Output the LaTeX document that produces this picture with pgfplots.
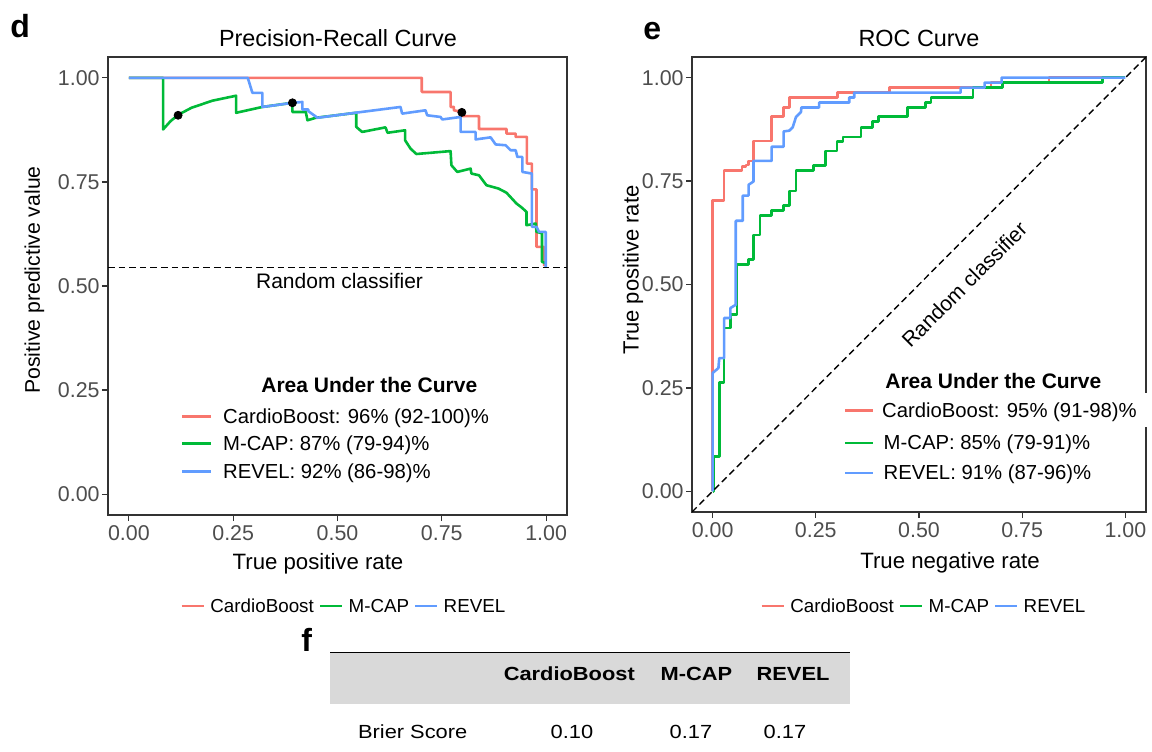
\documentclass[border=0pt]{standalone}
\usepackage{fontspec}
\setmainfont{Liberation Sans}
\usepackage{graphicx}
\usepackage{pgfplots}
\pgfplotsset{compat=1.18}

\definecolor{cbred}{HTML}{F8766D}
\definecolor{mgreen}{HTML}{00BA38}
\definecolor{rblue}{HTML}{619CFF}
\definecolor{tickgray}{HTML}{4D4D4D}
\definecolor{framegray}{HTML}{333333}
\definecolor{tablegray}{HTML}{D9D9D9}

\pgfplotsset{
  panel/.style={
    scale only axis,
    xmin=-0.05, xmax=1.05, ymin=-0.05, ymax=1.05,
    xtick={0,0.25,0.5,0.75,1}, ytick={0,0.25,0.5,0.75,1},
    xticklabels={0.00,0.25,0.50,0.75,1.00},
    yticklabels={0.00,0.25,0.50,0.75,1.00},
    tick align=outside, major tick length=3pt, tick pos=left,
    tick style={draw=framegray, line width=0.6pt},
    axis line style={draw=framegray, line width=0.6pt},
    ticklabel style={font=\fontsize{10.7}{12}\selectfont, text=tickgray, inner sep=0pt},
    xticklabel style={anchor=base, yshift=-9.5pt},
    yticklabel style={anchor=east, xshift=-1pt},
  },
  curve/.style={line width=1.3pt, line join=round},
}

\begin{document}
\begin{tikzpicture}
\path[use as bounding box] (0,0) rectangle (576pt,375.5pt);

% d: precision-recall
\begin{axis}[panel, at={(54pt,118pt)}, anchor=south west, width=229.5pt, height=229pt]
\addplot[curve, cbred] coordinates {
(0,1)(0.702,1)(0.702,0.966)(0.771,0.966)(0.771,0.930)(0.779,0.930)(0.779,0.922)
(0.798,0.918)(0.800,0.908)(0.839,0.908)(0.839,0.877)(0.905,0.877)(0.905,0.866)
(0.927,0.866)(0.927,0.858)(0.954,0.858)(0.954,0.794)(0.966,0.794)(0.966,0.732)
(0.977,0.732)(0.977,0.594)(0.995,0.594)(0.995,0.548)
};
\addplot[curve, mgreen] coordinates {
(0,1)(0.082,1)(0.082,0.876)(0.100,0.896)(0.118,0.911)(0.150,0.928)(0.200,0.945)
(0.257,0.957)(0.257,0.916)(0.320,0.930)(0.392,0.940)(0.392,0.918)(0.424,0.918)
(0.428,0.898)(0.448,0.904)(0.545,0.916)(0.545,0.882)(0.559,0.870)(0.615,0.881)
(0.620,0.868)(0.662,0.874)(0.662,0.850)(0.675,0.830)(0.689,0.817)(0.771,0.824)
(0.773,0.790)(0.787,0.774)(0.819,0.782)(0.821,0.770)(0.839,0.766)(0.857,0.742)
(0.886,0.734)(0.905,0.724)(0.929,0.698)(0.942,0.688)(0.953,0.678)(0.953,0.646)
(0.975,0.650)(0.977,0.630)(0.990,0.627)(0.990,0.558)(0.999,0.555)
};
\addplot[curve, rblue] coordinates {
(0,1)(0.285,1)(0.296,0.964)(0.320,0.964)(0.320,0.930)(0.350,0.934)(0.392,0.940)
(0.416,0.942)(0.416,0.924)(0.430,0.924)(0.430,0.920)(0.452,0.904)(0.550,0.917)
(0.651,0.930)(0.655,0.914)(0.711,0.922)(0.715,0.910)(0.747,0.906)(0.751,0.900)
(0.795,0.906)(0.795,0.870)(0.831,0.870)(0.831,0.852)(0.867,0.857)(0.879,0.840)
(0.903,0.838)(0.915,0.826)(0.927,0.826)(0.931,0.810)(0.943,0.810)(0.943,0.774)
(0.966,0.770)(0.966,0.642)(0.977,0.642)(0.983,0.630)(0.999,0.630)(0.999,0.544)
};
\addplot[only marks, mark=*, mark size=2pt, black] coordinates {
(0.118,0.910)(0.392,0.940)(0.798,0.917)
};
\draw[black, line width=0.7pt, dash pattern=on 3.3pt off 2pt] (axis cs:-0.05,0.545) -- (axis cs:1.05,0.545);
\node[font=\fontsize{10.5}{12}\selectfont] at (axis cs:0.505,0.512) {Random classifier};
\end{axis}

% e: ROC
\begin{axis}[panel, at={(346pt,119.5pt)}, anchor=south west, width=227pt, height=227.5pt]
\addplot[curve, cbred] coordinates {
(0,0)(0,0.703)(0.028,0.703)(0.028,0.775)(0.071,0.775)(0.071,0.785)(0.081,0.785)
(0.081,0.789)(0.087,0.789)(0.087,0.799)(0.099,0.799)(0.099,0.847)(0.143,0.847)
(0.143,0.906)(0.172,0.906)(0.172,0.928)(0.186,0.928)(0.186,0.952)(0.303,0.952)
(0.303,0.964)(0.429,0.964)(0.429,0.976)(0.674,0.976)(0.674,0.988)(0.815,0.988)
(0.815,1)(1,1)
};
\addplot[curve, mgreen] coordinates {
(0,0)(0.002,0)(0.002,0.084)(0.016,0.084)(0.016,0.263)(0.028,0.263)(0.028,0.395)
(0.043,0.395)(0.043,0.428)(0.059,0.428)(0.059,0.548)(0.087,0.548)(0.087,0.560)
(0.099,0.560)(0.099,0.620)(0.115,0.620)(0.115,0.667)(0.143,0.667)(0.143,0.679)
(0.172,0.679)(0.172,0.691)(0.186,0.691)(0.186,0.726)(0.202,0.726)(0.202,0.775)
(0.245,0.775)(0.245,0.787)(0.273,0.787)(0.273,0.823)(0.301,0.823)(0.301,0.845)
(0.316,0.845)(0.316,0.857)(0.359,0.857)(0.359,0.880)(0.387,0.880)(0.387,0.894)
(0.402,0.894)(0.402,0.906)(0.472,0.906)(0.472,0.928)(0.516,0.928)(0.516,0.940)
(0.529,0.940)(0.529,0.952)(0.631,0.952)(0.631,0.976)(0.702,0.976)(0.702,0.988)
(0.944,0.988)(0.944,1)(1,1)
};
\addplot[curve, rblue] coordinates {
(0,0)(0,0.286)(0.014,0.298)(0.016,0.322)(0.028,0.322)(0.028,0.419)(0.043,0.419)
(0.043,0.443)(0.056,0.451)(0.056,0.654)(0.073,0.654)(0.073,0.715)(0.087,0.715)
(0.087,0.741)(0.099,0.749)(0.099,0.799)(0.143,0.799)(0.143,0.833)(0.172,0.833)
(0.172,0.870)(0.186,0.872)(0.194,0.880)(0.202,0.905)(0.214,0.917)(0.215,0.928)
(0.258,0.928)(0.258,0.940)(0.331,0.940)(0.331,0.952)(0.343,0.952)(0.343,0.964)
(0.601,0.964)(0.601,0.976)(0.659,0.976)(0.659,0.988)(0.700,0.988)(0.700,1)(1,1)
};
\draw[black, line width=0.7pt, dash pattern=on 3.3pt off 2pt] (axis cs:-0.05,-0.05) -- (axis cs:1.05,1.05);
\node[rotate=45, font=\fontsize{10.5}{12}\selectfont] at (axis cs:0.61,0.50) {Random classifier};
\end{axis}

% annotations in pixel coordinates (y downwards)
\begin{scope}[x=0.5pt, y=-0.5pt, yshift=375.5pt]
\node[anchor=base west, inner sep=0pt, font=\fontsize{16}{18}\selectfont\bfseries] at (10,38) {d};
\node[anchor=base west, inner sep=0pt, font=\fontsize{16}{18}\selectfont\bfseries] at (643,40) {e};
\node[anchor=base west, inner sep=0pt, font=\fontsize{16}{18}\selectfont\bfseries] at (301,651) {f};

\node[anchor=base, inner sep=0pt, font=\fontsize{11.7}{14}\selectfont] at (338,46.7) {Precision-Recall Curve};
\node[anchor=base, inner sep=0pt, font=\fontsize{11.7}{14}\selectfont] at (919,46.7) {ROC Curve};

\node[anchor=base, inner sep=0pt, font=\fontsize{11.1}{13}\selectfont] at (318,569.3) {True positive rate};
\node[anchor=base, inner sep=0pt, font=\fontsize{11.1}{13}\selectfont] at (950,568.3) {True negative rate};
\node[rotate=90, inner sep=0pt, font=\fontsize{10.6}{13}\selectfont] at (34.5,280) {Positive predictive value};
\node[rotate=90, inner sep=0pt, font=\fontsize{11}{13}\selectfont] at (633,270) {True positive rate};

% legend inside d
\node[anchor=base west, inner sep=0pt, font=\fontsize{10.5}{12}\selectfont\bfseries] at (261,392.7) {Area Under the Curve};
\draw[cbred, line width=1.3pt] (182.3,416.3) -- (211,416.3);
\draw[mgreen, line width=1.3pt] (182.3,443.7) -- (211,443.7);
\draw[rblue, line width=1.3pt] (182.3,471.3) -- (211,471.3);
\begin{scope}[every node/.style={anchor=base west, inner sep=0pt, font=\fontsize{10.15}{12}\selectfont}]
\node at (222.7,423.3) {CardioBoost: 96\% (92-100)\%};
\node at (222.7,450.7) {M-CAP: 87\% (79-94)\%};
\node at (222.7,478.3) {REVEL: 92\% (86-98)\%};
\end{scope}

% legend inside e
\fill[white] (1141,393) rectangle (1151,427);
\node[anchor=base west, inner sep=0pt, font=\fontsize{10.5}{12}\selectfont\bfseries] at (885,388.3) {Area Under the Curve};
\draw[cbred, line width=1.3pt] (845,410.3) -- (873.3,410.3);
\draw[mgreen, line width=1.3pt] (845,443) -- (873.3,443);
\draw[rblue, line width=1.3pt] (845,473) -- (873.3,473);
\begin{scope}[every node/.style={anchor=base west, inner sep=0pt, font=\fontsize{10.15}{12}\selectfont}]
\node at (881.7,417.3) {CardioBoost: 95\% (91-98)\%};
\node at (883.3,450) {M-CAP: 85\% (79-91)\%};
\node at (883.3,480) {REVEL: 91\% (87-96)\%};
\end{scope}

% bottom legends
\begin{scope}[every node/.style={anchor=base west, inner sep=0pt, font=\fontsize{9.4}{11}\selectfont}]
\draw[cbred, line width=1.3pt] (181.7,606) -- (204,606);
\node at (210,612.7) {CardioBoost};
\draw[mgreen, line width=1.3pt] (320,606) -- (341.7,606);
\node at (348.3,612.7) {M-CAP};
\draw[rblue, line width=1.3pt] (415,606) -- (436.7,606);
\node at (443.3,612.7) {REVEL};
\draw[cbred, line width=1.3pt] (761.7,606) -- (784,606);
\node at (790,612.7) {CardioBoost};
\draw[mgreen, line width=1.3pt] (900,606) -- (921.7,606);
\node at (928.3,612.7) {M-CAP};
\draw[rblue, line width=1.3pt] (995,606) -- (1016.7,606);
\node at (1023.3,612.7) {REVEL};
\end{scope}

% f: Brier score table
\fill[tablegray] (330,652.7) rectangle (850,704);
\draw[black, line width=0.6pt] (330,652.7) -- (850,652.7);
\begin{scope}[every node/.style={anchor=base, inner sep=0pt, font=\fontsize{9.5}{11}\selectfont}]
\node at (569.3,680) {\scalebox{1.15}[1]{\bfseries CardioBoost}};
\node at (696.5,680) {\scalebox{1.15}[1]{\bfseries M-CAP}};
\node at (793,680) {\scalebox{1.15}[1]{\bfseries REVEL}};
\node at (412.7,738) {\scalebox{1.15}[1]{Brier Score}};
\node at (572,738) {\scalebox{1.15}[1]{0.10}};
\node at (691,738) {\scalebox{1.15}[1]{0.17}};
\node at (785,738) {\scalebox{1.15}[1]{0.17}};
\end{scope}
\end{scope}
\end{tikzpicture}
\end{document}
